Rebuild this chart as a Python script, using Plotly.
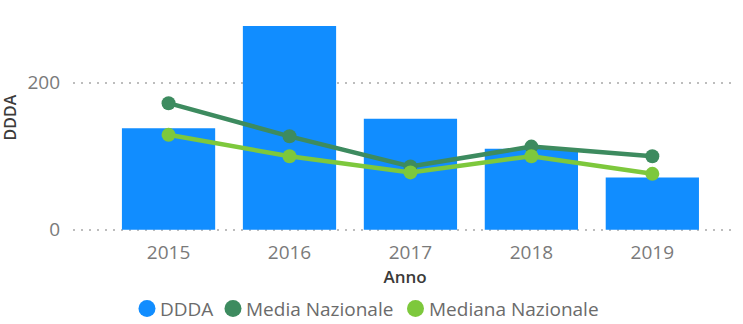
import plotly.graph_objects as go

# DDDA per anno, con media e mediana nazionale
anni = ["2015", "2016", "2017", "2018", "2019"]
ddda = [138, 277, 151, 110, 71]
media_nazionale = [172, 127, 86, 113, 100]
mediana_nazionale = [129, 100, 78, 100, 76]

serie = [("DDDA", "#118DFF"), ("Media Nazionale", "#3D8B5F"),
         ("Mediana Nazionale", "#7DC83C")]
COL_DDDA, COL_MEDIA, COL_MEDIANA = (c for _, c in serie)

FONT = "Segoe UI, Open Sans, sans-serif"
TICK_GREY = "#7a7a7a"
TITLE_COL = "#3b3a39"

# plot area in pixels
W, H = 743, 324
L, R, T, B = 73, 6, 20, 92
PW, PH = W - L - R, H - T - B


def px_x(px):
    return (px - L) / PW


def px_y(py):
    return (H - B - py) / PH


fig = go.Figure()

fig.add_trace(go.Bar(
    x=anni, y=ddda, name="DDDA",
    marker=dict(color=COL_DDDA, line=dict(width=0)), showlegend=False,
))
fig.add_trace(go.Scatter(
    x=anni, y=media_nazionale, name="Media Nazionale", mode="lines+markers",
    line=dict(color=COL_MEDIA, width=4.5), marker=dict(color=COL_MEDIA, size=14),
    showlegend=False,
))
fig.add_trace(go.Scatter(
    x=anni, y=mediana_nazionale, name="Mediana Nazionale", mode="lines+markers",
    line=dict(color=COL_MEDIANA, width=4.5), marker=dict(color=COL_MEDIANA, size=14),
    showlegend=False,
))

# legend row: circle + label for each series
legend_y = 308.5
legend_pos = [(147, 158), (233, 244), (415.5, 426.5)]
shapes, annotations = [], []
for (nome, col), (cx, tx) in zip(serie, legend_pos):
    shapes.append(dict(
        type="circle", xref="paper", yref="paper",
        xsizemode="pixel", ysizemode="pixel",
        xanchor=px_x(cx), yanchor=px_y(legend_y),
        x0=-8.5, x1=8.5, y0=-8.5, y1=8.5,
        fillcolor=col, line=dict(width=0),
    ))
    annotations.append(dict(
        text=nome, xref="paper", yref="paper", x=px_x(tx), y=px_y(legend_y),
        xanchor="left", yanchor="middle", showarrow=False,
        font=dict(family=FONT, size=19, color="#6b6b6b"),
    ))

# y axis title
annotations.append(dict(
    text="DDDA", xref="paper", yref="paper", x=px_x(9), y=px_y(117.5),
    xanchor="center", yanchor="middle", textangle=-90, showarrow=False,
    font=dict(family=FONT, size=16, color=TITLE_COL, weight=600),
))

fig.update_layout(
    width=W, height=H,
    margin=dict(l=L, r=R, t=T, b=B, autoexpand=False),
    paper_bgcolor="white", plot_bgcolor="white",
    font=dict(family=FONT, size=19, color=TICK_GREY),
    bargap=0.229,
    showlegend=False,
    shapes=shapes,
    annotations=annotations,
    xaxis=dict(
        type="category", range=[-0.79, 4.7], showgrid=False, zeroline=False,
        showline=False, ticks="", ticklabelstandoff=7, automargin=False,
        tickfont=dict(size=19, color=TICK_GREY),
        title=dict(text="Anno", font=dict(size=17, color=TITLE_COL, weight=600),
                   standoff=2),
    ),
    yaxis=dict(
        range=[-3, 285], tickvals=[0, 200], showgrid=True, gridcolor="#BDBDBD",
        griddash="2px,6px", gridwidth=1.5, zeroline=False, showline=False,
        ticks="", ticklabelstandoff=12, automargin=False,
        tickfont=dict(size=19, color=TICK_GREY),
    ),
)

fig.write_html("out.html")
